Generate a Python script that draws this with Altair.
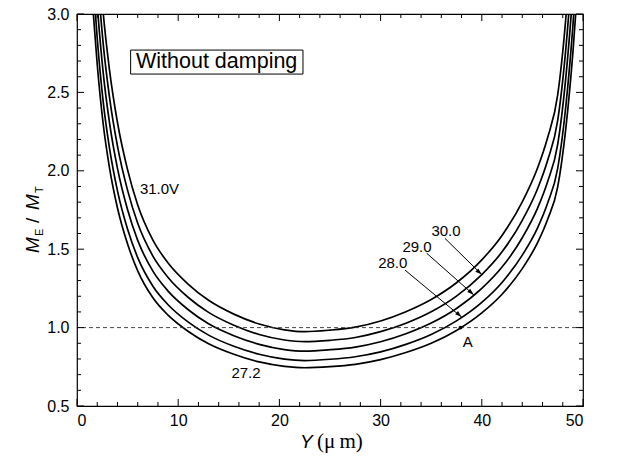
import altair as alt
import pandas as pd

# ---------------- data ----------------
Y_UM = [1.2, 1.6, 2.0, 2.6, 3.2, 4.0, 5.0, 6.0, 7.5, 9.0, 11, 13, 15.5, 18, 20.5, 22.5,
        25, 27.5, 30, 32.5, 35, 37.5, 40, 42, 44, 45.5, 46.5, 47.5, 48.3, 49, 49.5, 50]
M_27_2 = [3.422, 3.013, 2.678, 2.292, 2.024, 1.763, 1.533, 1.362, 1.190, 1.079, 0.975, 0.897,
          0.830, 0.781, 0.753, 0.744, 0.751, 0.766, 0.796, 0.841, 0.900, 0.982, 1.094, 1.213,
          1.376, 1.540, 1.689, 1.897, 2.269, 2.753, 3.199, 3.720]
M_28_0 = [3.634, 3.200, 2.844, 2.433, 2.149, 1.872, 1.627, 1.446, 1.264, 1.146, 1.035, 0.952,
          0.881, 0.830, 0.799, 0.790, 0.798, 0.814, 0.845, 0.893, 0.956, 1.043, 1.161, 1.288,
          1.462, 1.635, 1.793, 2.015, 2.410, 2.923, 3.397, 3.950]
M_29_0 = [3.910, 3.443, 3.060, 2.618, 2.312, 2.015, 1.751, 1.556, 1.360, 1.233, 1.114, 1.024,
          0.948, 0.893, 0.860, 0.850, 0.859, 0.876, 0.910, 0.961, 1.029, 1.122, 1.250, 1.386,
          1.573, 1.760, 1.930, 2.168, 2.593, 3.145, 3.655, 4.250]
M_30_0 = [4.186, 3.686, 3.276, 2.803, 2.475, 2.157, 1.875, 1.665, 1.456, 1.320, 1.192, 1.097,
          1.015, 0.956, 0.921, 0.910, 0.919, 0.937, 0.974, 1.028, 1.101, 1.201, 1.338, 1.483,
          1.684, 1.884, 2.066, 2.321, 2.776, 3.367, 3.913, 4.550]
M_31_0 = [4.480, 3.945, 3.506, 3.000, 2.649, 2.308, 2.006, 1.782, 1.558, 1.412, 1.276, 1.174,
          1.086, 1.023, 0.986, 0.974, 0.984, 1.003, 1.042, 1.101, 1.179, 1.286, 1.432, 1.588,
          1.802, 2.016, 2.211, 2.484, 2.971, 3.604, 4.188, 4.870]
VOLTAGES = ["27.2", "28.0", "29.0", "30.0", "31.0"]
SERIES = [M_27_2, M_28_0, M_29_0, M_30_0, M_31_0]

X_MAJOR = [0, 10, 20, 30, 40, 50]
X_MINOR = [2, 4, 6, 8, 12, 14, 16, 18, 22, 24, 26, 28, 32, 34, 36, 38, 42, 44, 46, 48]
Y_MAJOR = [0.5, 1.0, 1.5, 2.0, 2.5, 3.0]
Y_MINOR = [0.6, 0.7, 0.8, 0.9, 1.1, 1.2, 1.3, 1.4, 1.6, 1.7, 1.8, 1.9,
           2.1, 2.2, 2.3, 2.4, 2.6, 2.7, 2.8, 2.9]

REF_LEVEL = [1.0]

LABEL_TEXT = ["31.0V", "27.2", "30.0", "29.0", "28.0", "A"]
LABEL_Y = [8.15, 16.7, 36.46, 33.6, 31.2, 38.6]
LABEL_M = [1.884, 0.710, 1.619, 1.514, 1.409, 0.905]

ARROW_Y0 = [36.36, 34.56, 32.41]
ARROW_M0 = [1.569, 1.474, 1.367]
ARROW_Y1 = [40.0, 39.2, 38.0]
ARROW_M1 = [1.338, 1.209, 1.067]

POINT_A_Y = [37.9]
POINT_A_M = [1.0]

BOX_TEXT = ["Without damping"]
BOX_Y = [5.3]
BOX_Y2 = [22.33]
BOX_M = [2.617]
BOX_M2 = [2.770]
BOX_TEXT_Y = [13.8]
BOX_TEXT_M = [2.694]

# ---------------- chart ----------------
W, H = 506, 392
FONT = "Liberation Sans"

xs = alt.Scale(domain=[0, 50], nice=False, zero=False)
ys = alt.Scale(domain=[0.5, 3.0], nice=False, zero=False)
AX_X = alt.Axis(values=X_MAJOR, format="d", title=None, ticks=False, domain=False,
                grid=False, labelPadding=6)
AX_Y = alt.Axis(values=Y_MAJOR, format=".1f", title=None, ticks=False, domain=False,
                grid=False, labelPadding=8)

def X(field):
    return alt.X(field, scale=xs, axis=AX_X)

def Yc(field):
    return alt.Y(field, scale=ys, axis=AX_Y)

rows = []
for v, vals in zip(VOLTAGES, SERIES):
    for yy, mm in zip(Y_UM, vals):
        rows.append({"Y": yy, "M": mm, "V": v})
curves_df = pd.DataFrame(rows)

lines = alt.Chart(curves_df).mark_line(
    color="black", strokeWidth=1.7, interpolate="monotone", clip=True
).encode(x=X("Y:Q"), y=Yc("M:Q"), detail="V:N")

ref = alt.Chart(pd.DataFrame({"M": REF_LEVEL})).mark_rule(
    color="#333333", strokeWidth=0.9, strokeDash=[4, 3]
).encode(y=Yc("M:Q"))

xmaj = pd.DataFrame({"v": X_MAJOR})
xmin = pd.DataFrame({"v": X_MINOR})
ymaj = pd.DataFrame({"v": Y_MAJOR})
ymin = pd.DataFrame({"v": Y_MINOR})

def xticks(df, length):
    bottom = alt.Chart(df).mark_rule(color="black", strokeWidth=1).encode(
        x=X("v:Q"), y=alt.value(H), y2=alt.value(H - length))
    top = alt.Chart(df).mark_rule(color="black", strokeWidth=1).encode(
        x=X("v:Q"), y=alt.value(0), y2=alt.value(length))
    return [bottom, top]

def yticks(df, length):
    left = alt.Chart(df).mark_rule(color="black", strokeWidth=1).encode(
        y=Yc("v:Q"), x=alt.value(0), x2=alt.value(length))
    right = alt.Chart(df).mark_rule(color="black", strokeWidth=1).encode(
        y=Yc("v:Q"), x=alt.value(W), x2=alt.value(W - length))
    return [left, right]

tick_layers = xticks(xmaj, 7) + xticks(xmin, 4) + yticks(ymaj, 7) + yticks(ymin, 4)

labels = alt.Chart(pd.DataFrame({"t": LABEL_TEXT, "Y": LABEL_Y, "M": LABEL_M})).mark_text(
    font=FONT, fontSize=15, color="black", align="center", baseline="middle"
).encode(x=X("Y:Q"), y=Yc("M:Q"), text="t:N")

arrows_df = pd.DataFrame({"Y0": ARROW_Y0, "M0": ARROW_M0, "Y1": ARROW_Y1, "M1": ARROW_M1})
arrow_lines = alt.Chart(arrows_df).mark_rule(color="black", strokeWidth=1).encode(
    x=X("Y0:Q"), y=Yc("M0:Q"), x2="Y1:Q", y2="M1:Q")
arrow_heads = alt.Chart(arrows_df).mark_point(
    shape="M 0 0 L -1 -0.32 L -1 0.32 Z", filled=True, color="black", size=180,
    angle=42, opacity=1
).encode(x=X("Y1:Q"), y=Yc("M1:Q"))

point_a = alt.Chart(pd.DataFrame({"Y": POINT_A_Y, "M": POINT_A_M})).mark_point(
    shape="circle", filled=True, color="black", size=14, opacity=1
).encode(x=X("Y:Q"), y=Yc("M:Q"))

box = alt.Chart(pd.DataFrame({"Y": BOX_Y, "Y2": BOX_Y2, "M": BOX_M, "M2": BOX_M2})).mark_rect(
    fill="white", stroke="black", strokeWidth=1
).encode(x=X("Y:Q"), x2="Y2:Q", y=Yc("M:Q"), y2="M2:Q")
box_text = alt.Chart(pd.DataFrame({"t": BOX_TEXT, "Y": BOX_TEXT_Y, "M": BOX_TEXT_M})).mark_text(
    font=FONT, fontSize=21.5, color="black", align="center", baseline="middle"
).encode(x=X("Y:Q"), y=Yc("M:Q"), text="t:N")

# axis titles (built from pieces to get italics and subscripts)
def piece(txt, x, y, size, style="normal", angle=0, font=FONT):
    return alt.Chart(pd.DataFrame({"t": [txt]})).mark_text(
        font=font, fontSize=size, fontStyle=style, color="black",
        align="left", baseline="alphabetic", angle=angle
    ).encode(x=alt.value(x), y=alt.value(y), text="t:N")

ytitle = [
    piece("M", -38.5, 239, 19, "italic", 270),
    piece("E", -34.5, 222, 11, "normal", 270),
    piece("/", -38.5, 209, 19, "normal", 270),
    piece("M", -38.5, 196, 19, "italic", 270),
    piece("T", -34.5, 179, 11, "normal", 270),
]
xtitle = [
    piece("Y", 223, 434, 19, "italic", 0),
    piece("(\u03bc\u2009m)", 240, 434, 21, "normal", 0, "Liberation Serif"),
]

chart = alt.layer(
    lines, ref, *tick_layers, box, box_text, labels, arrow_lines, arrow_heads, point_a,
    *ytitle, *xtitle
).properties(
    width=W, height=H,
    autosize=alt.AutoSizeParams(type="none"),
    padding={"left": 77, "top": 14, "right": 38, "bottom": 52},
    background="white",
).configure_view(
    stroke="black", strokeWidth=1.2, fill=None
).configure_axis(
    labelFont=FONT, labelFontSize=16, labelColor="black"
)

chart.save("out.html", embed_options={"renderer": "svg", "actions": False})
